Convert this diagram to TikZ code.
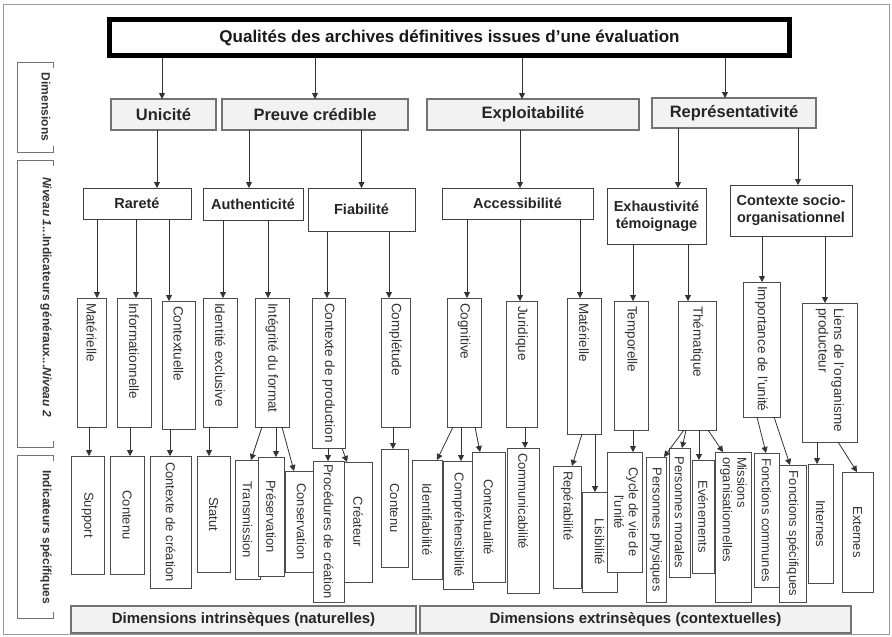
\documentclass[tikz,border=0pt]{standalone}
\usepackage{fontspec}
\setmainfont{Liberation Sans}
\usepackage{graphicx}
\usetikzlibrary{calc,arrows.meta}

\newcommand\rtop[2]{\rotatebox{-90}{\makebox[#1pt][l]{#2}}}
\newcommand\rmid[1]{\rotatebox{-90}{#1}}
\newcommand\twol[2]{\begin{tabular}{@{}l@{}}#1\\#2\end{tabular}}
\newcommand\twoc[2]{\begin{tabular}{@{}c@{}}#1\\#2\end{tabular}}
\newcommand\bx[7]{\node[#1, minimum width=#5pt, minimum height=#6pt] (#2) at (#3,#4) {#7};}
\newcommand\av[3]{\draw[arr] ($(#1.south -| #2.north)+(#3,0)$) -- ($(#2.north)+(#3,0)$);}
\newcommand\ad[4]{\draw[arr] ($(#1.south)+(#3,0)$) -- ($(#2.north)+(#4,0)$);}

\tikzset{
 dim/.style={draw=black!55, fill=black!5, line width=1.1pt, inner sep=0, outer sep=0, text=black!85, font=\bfseries\fontsize{16.5}{19}\selectfont},
 lone/.style={draw=black!75, fill=white, line width=0.9pt, inner sep=0, outer sep=0, text=black!85, align=center, font=\bfseries\fontsize{14.5}{17}\selectfont},
 ltwo/.style={draw=black!70, fill=white, line width=0.8pt, inner sep=0, outer sep=0, text=black!80, font=\fontsize{13.5}{15.5}\selectfont},
 lthree/.style={ltwo, font=\fontsize{13}{14.5}\selectfont},
 arr/.style={draw=black!80, line width=0.8pt, -{Triangle[length=6pt,width=6pt]}},
 bar/.style={dim, font=\bfseries\fontsize{15}{18}\selectfont},
 side/.style={inner sep=0, outer sep=0, text=black!80, font=\bfseries\fontsize{12}{14}\selectfont},
 brk/.style={draw=black!55, line width=1pt},
}

\begin{document}
\begin{tikzpicture}[x=1pt,y=-1pt]
\useasboundingbox (0,0) rectangle (892,637);
\fill[white] (0,0) rectangle (892,637);
\draw[black!40, line width=1pt] (3,4) rectangle (889,634);

% title
\node[draw=black, line width=5pt, fill=white, minimum width=680pt, minimum height=36pt, inner sep=0, text=black!90, font=\bfseries\fontsize{17}{20}\selectfont] (T) at (449.5,37.5) {Qualités des archives définitives issues d'une évaluation};

% side brackets
\node[side, minimum width=36pt, minimum height=90pt] (lb1) at (35,107) {};
\node[side, minimum width=36pt, minimum height=287pt] (lb2) at (35,303.5) {};
\node[side, minimum width=36pt, minimum height=163pt] (lb3) at (35,536.5) {};
\foreach \b in {lb1,lb2,lb3}{
  \draw[brk] ($(\b.north east)+(0,6)$) -- (\b.north east) -- (\b.north west) -- (\b.south west) -- (\b.south east) -- ($(\b.south east)+(0,-6)$);
}
\node[side, rotate=-90] (lb1t) at (46,107) {Dimensions};
\node[side, rotate=-90] (lb2t) at (46,297) {{\itshape Niveau 1}...Indicateurs généraux...{\itshape Niveau 2}};
\node[side, rotate=-90] (lb3t) at (46,537) {Indicateurs spécifiques};

% dimensions
\bx{dim}{uni}{163.5}{114.5}{105}{31}{Unicité}
\bx{dim}{pre}{315}{114.5}{186}{31}{Preuve crédible}
\bx{dim}{exp}{533}{114.5}{212}{31}{Exploitabilité}
\bx{dim}{rep}{734}{113}{164}{30}{Représentativité}

% level 1
\bx{lone}{rar}{137}{203.5}{108}{31}{Rareté}
\bx{lone}{aut}{253}{204}{100}{32}{Authenticité}
\bx{lone}{fia}{361.5}{209.5}{107}{43}{Fiabilité}
\bx{lone}{acc}{517.5}{203.5}{151}{31}{Accessibilité}
\bx{lone}{exh}{656.5}{216}{99}{56}{Exhaustivité\\témoignage}
\bx{lone}{ctx}{791}{210.5}{122}{51}{Contexte socio-\\organisationnel}

% level 2
\bx{ltwo}{mat}{91.5}{362.5}{29}{129}{\rtop{119}{Matérielle}}
\bx{ltwo}{inf}{134}{362.5}{34}{129}{\rtop{119}{Informationnelle}}
\bx{ltwo}{cxt}{178.5}{365}{33}{128}{\rtop{118}{Contextuelle}}
\bx{ltwo}{ide}{220}{362.5}{34}{129}{\rtop{119}{Identité exclusive}}
\bx{ltwo}{int}{272}{362.5}{34}{129}{\rtop{119}{Intégrité du format}}
\bx{ltwo}{cpr}{328.5}{373}{33}{150}{\rtop{140}{Contexte de production}}
\bx{ltwo}{cpl}{395.5}{362.5}{29}{129}{\rtop{119}{Complétude}}
\bx{ltwo}{cog}{464}{362.5}{34}{129}{\rtop{119}{Cognitive}}
\bx{ltwo}{jur}{521.5}{364}{31}{126}{\rtop{116}{Juridique}}
\bx{ltwo}{ma2}{584}{366}{34}{136}{\rtop{126}{Matérielle}}
\bx{ltwo}{tem}{631}{365.5}{34}{129}{\rtop{119}{Temporelle}}
\bx{ltwo}{the}{697}{365.5}{38}{129}{\rtop{119}{Thématique}}
\bx{ltwo}{imp}{761.5}{349.5}{37}{135}{\rtop{127}{Importance de l'unité}}
\bx{ltwo}{lie}{829.5}{372.5}{55}{139}{\rtop{129}{\twol{Liens de l'organisme}{producteur}}}

% level 3
\bx{lthree}{sup}{87.5}{515}{33}{118}{\rmid{Support}}
\bx{lthree}{con}{127}{515}{34}{118}{\rmid{Contenu}}
\bx{lthree}{ccr}{170.5}{522}{41}{132}{\rmid{Contexte de création}}
\bx{lthree}{sta}{213.5}{514}{33}{116}{\rmid{Statut}}
\bx{lthree}{tra}{247.5}{519.5}{25}{119}{\rmid{Transmission}}
\bx{lthree}{pres}{271}{516.5}{26}{119}{\rmid{Préservation}}
\bx{lthree}{cons}{301.5}{521.5}{33}{101}{\rmid{Conservation}}
\bx{lthree}{proc}{328.5}{531.5}{31}{141}{\rmid{Procédures de création}}
\bx{lthree}{crea}{358}{522}{28}{120}{\rmid{Créateur}}
\bx{lthree}{con2}{394.5}{508}{27}{118}{\rmid{Contenu}}
\bx{lthree}{idf}{427}{519.5}{30}{119}{\rmid{Identifiabilité}}
\bx{lthree}{cmp}{458}{525}{30}{128}{\rmid{Compréhensibilité}}
\bx{lthree}{ctl}{488.5}{517}{33}{130}{\rmid{Contextualité}}
\bx{lthree}{com}{523}{520.5}{32}{145}{\rtop{135}{Communicabilité}}
\bx{lthree}{rpb}{567}{527}{28}{122}{\rtop{112}{Repérabilité}}
\bx{lthree}{lis}{599.5}{542}{35}{100}{\rmid{Lisibilité}}
\bx{lthree}{cyc}{624.5}{512}{35}{120}{\rmid{\twoc{Cycle de vie de}{l'unité}}}
\bx{lthree}{pph}{656}{529.5}{20}{145}{\rmid{Personnes physiques}}
\bx{lthree}{pmo}{679.5}{512.5}{21}{129}{\rmid{Personnes morales}}
\bx{lthree}{eve}{703}{516.5}{22}{113}{\rmid{Evénements}}
\bx{lthree}{mis}{733}{527}{36}{150}{\rtop{140}{\twol{Missions}{organisationnelles}}}
\bx{lthree}{fco}{766.5}{520}{25}{134}{\rmid{Fonctions communes}}
\bx{lthree}{fsp}{792.5}{533.5}{27}{137}{\rmid{Fonctions spécifiques}}
\bx{lthree}{inte}{820.5}{523.5}{25}{119}{\rmid{Internes}}
\bx{lthree}{exte}{857.5}{532}{31}{120}{\rmid{Externes}}

% bottom bars
\bx{bar}{bl}{243.5}{619.5}{345}{27}{Dimensions intrinsèques (naturelles)}
\bx{bar}{br}{635.5}{619.5}{431}{27}{Dimensions extrinsèques (contextuelles)}

% arrows
\av{T}{uni}{-1.5}
\av{T}{pre}{0}
\av{T}{exp}{-11}
\av{T}{rep}{-9}
\av{uni}{rar}{20}
\av{pre}{aut}{-4}
\av{pre}{fia}{0}
\av{exp}{acc}{2.5}
\av{rep}{exh}{21.5}
\av{rep}{ctx}{7}
\av{rar}{mat}{5.5}
\av{rar}{inf}{2}
\av{rar}{cxt}{-9.5}
\av{aut}{ide}{3}
\av{aut}{int}{-4}
\av{fia}{cpr}{-1.5}
\av{fia}{cpl}{-6.5}
\av{acc}{cog}{3}
\av{acc}{jur}{-1.5}
\av{acc}{ma2}{-4}
\av{exh}{tem}{2}
\av{exh}{the}{-9}
\av{ctx}{imp}{0.5}
\av{ctx}{lie}{-4.5}
\av{mat}{sup}{1.5}
\av{inf}{con}{3}
\av{cxt}{ccr}{-0.5}
\av{ide}{sta}{-4.5}
\ad{int}{tra}{-10}{3.5}
\av{int}{pres}{5}
\ad{int}{cons}{10}{-7.5}
\av{cpr}{proc}{-0.5}
\ad{cpr}{crea}{13.5}{-11}
\av{cpl}{con2}{-1.5}
\ad{cog}{idf}{-11}{10}
\av{cog}{cmp}{3}
\ad{cog}{ctl}{11}{-8.5}
\av{jur}{com}{2}
\ad{ma2}{rpb}{-2}{5}
\av{ma2}{lis}{-4.5}
\av{tem}{cyc}{8.5}
\ad{the}{pph}{-13}{8}
\ad{the}{pmo}{-11}{2.5}
\av{the}{eve}{-4}
\ad{the}{mis}{11}{-10}
\ad{imp}{fco}{-4.5}{-0.5}
\ad{imp}{fsp}{12.5}{-2.5}
\av{lie}{inte}{-3.5}
\ad{lie}{exte}{8.5}{-0.5}
\end{tikzpicture}
\end{document}
